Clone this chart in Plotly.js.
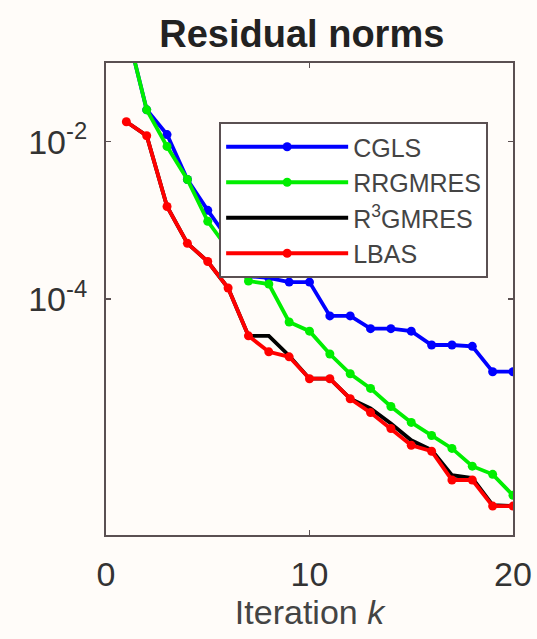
<!DOCTYPE html>
<html>
<head>
<meta charset="utf-8">
<script src="https://cdn.plot.ly/plotly-3.0.1.min.js"></script>
<style>html,body{margin:0;padding:0;background:#fffcf9;}</style>
</head>
<body>
<div id="chart" style="width:537px;height:639px;"></div>
<script>
const iterations = [1,2,3,4,5,6,7,8,9,10,11,12,13,14,15,16,17,18,19,20];
const cgls    = [0.28,0.0254,0.0123,0.0033,0.00134,5.8e-4,1.95e-4,1.85e-4,1.64e-4,1.64e-4,6.1e-5,6.1e-5,4.2e-5,4.2e-5,3.9e-5,2.6e-5,2.6e-5,2.5e-5,1.19e-5,1.19e-5];
const rrgmres = [0.28,0.0254,0.0087,0.0033,9.7e-4,4.3e-4,1.69e-4,1.55e-4,5.1e-5,3.9e-5,2.0e-5,1.12e-5,7.3e-6,4.3e-6,2.7e-6,1.84e-6,1.26e-6,7.5e-7,5.9e-7,3.2e-7];
const r3gmres = [0.0179,0.0119,0.0015,5.1e-4,3.0e-4,1.38e-4,3.4e-5,3.4e-5,1.9e-5,9.7e-6,9.7e-6,5.4e-6,4.06e-6,2.62e-6,1.6e-6,1.2e-6,5.75e-7,5.3e-7,2.4e-7,2.33e-7];
const lbas    = [0.0179,0.0119,0.0015,5.1e-4,3.0e-4,1.38e-4,3.4e-5,2.13e-5,1.84e-5,9.7e-6,9.7e-6,5.4e-6,3.6e-6,2.26e-6,1.38e-6,1.16e-6,5.0e-7,5.0e-7,2.33e-7,2.33e-7];
const seriesNames = ['CGLS','RRGMRES','R<sup>3</sup>GMRES','LBAS'];
const xTickVals = [0,10,20];
const yTickVals = [1e-2,1e-4];
const yTickText = ['10<sup>-2</sup>','10<sup>-4</sup>'];

const font = 'Liberation Sans, Arial, sans-serif';
const traces = [
  {x: iterations, y: cgls, name: seriesNames[0], mode:'lines+markers',
   line:{color:'#0000ff', width:3.8}, marker:{color:'#0000ff', size:9}},
  {x: iterations, y: rrgmres, name: seriesNames[1], mode:'lines+markers',
   line:{color:'#00ee00', width:3.8}, marker:{color:'#00ee00', size:9}},
  {x: iterations, y: r3gmres, name: seriesNames[2], mode:'lines',
   line:{color:'#000000', width:3.8}},
  {x: iterations, y: lbas, name: seriesNames[3], mode:'lines+markers',
   line:{color:'#ff0000', width:3.8}, marker:{color:'#ff0000', size:9}}
];
const axisCommon = {
  showgrid:false, zeroline:false, showline:true, mirror:'ticks',
  linecolor:'#5a5052', linewidth:2, ticks:'inside', ticklen:5, tickwidth:1.5,
  tickcolor:'#5a5052', tickfont:{family:font, size:34, color:'#333'}
};
const layout = {
  width:537, height:639,
  paper_bgcolor:'#fffcf9', plot_bgcolor:'#fffcf9',
  margin:{l:106, r:24, t:63, b:104},
  title:{text:'<b>Residual norms</b>', font:{family:font, size:38, color:'#222'},
         xref:'container', x:0.562, xanchor:'center', yref:'container', y:0.948, yanchor:'middle'},
  xaxis: Object.assign({}, axisCommon, {range:[0,20], tickvals:xTickVals, ticklabelstandoff:8,
         title:{text:'Iteration <i>k</i>', font:{family:font, size:34, color:'#444'}, standoff:6}}),
  yaxis: Object.assign({}, axisCommon, {type:'log', range:[-7,-1], tickvals:yTickVals, ticktext:yTickText, ticklabelstandoff:10}),
  showlegend:true,
  legend:{x:0.278, y:0.875, xanchor:'left', yanchor:'top', bgcolor:'#ffffff',
          bordercolor:'#5a5052', borderwidth:2, font:{family:font, size:25, color:'#444'},
          itemwidth:122, tracegroupgap:0}
};
Plotly.newPlot('chart', traces, layout, {displayModeBar:false, staticPlot:true});
</script>
</body>
</html>
